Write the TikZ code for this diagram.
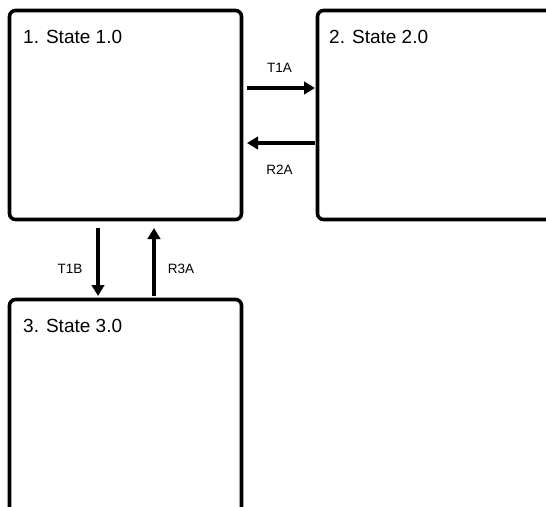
\documentclass[tikz,border=0pt]{standalone}
\usepackage{fontspec}
\setmainfont{Liberation Sans}
\usetikzlibrary{arrows.meta,calc}
\tikzset{
  statebox/.style={draw=black, line width=3.6pt, rounded corners=6pt, rectangle, outer sep=0pt, inner sep=0pt},
  titletext/.style={font=\fontsize{19}{22}\selectfont, inner sep=0pt, anchor=base west},
  arr/.style={line width=3.2pt, -{Triangle[length=11pt,width=12.5pt]}},
  lbl/.style={font=\fontsize{13.5}{16}\selectfont, inner sep=0pt}
}
\begin{document}
\begin{tikzpicture}[x=1pt,y=-1pt]
\clip (0,0) rectangle (546,506);
\fill[white] (0,0) rectangle (546,506);
% boxes
\node[statebox, minimum width=232pt, minimum height=209pt] (b1) at (125.5,115) {};
\node[statebox, minimum width=240pt, minimum height=209pt] (b2) at (437.5,115) {};
\node[statebox, minimum width=232pt, minimum height=220pt] (b3) at (125.5,409.5) {};
% titles
\node[titletext] (t1) at (23,43) {1. State 1.0};
\node[titletext] (t2) at (329,43) {2. State 2.0};
\node[titletext] (t3) at (23,332.5) {3. State 3.0};
% connectors
\draw[arr, shorten <=5.5pt, shorten >=2.5pt] (b1.east |- 0,88) -- (b2.west |- 0,88)
  node[lbl, midway, yshift=20pt] (l1) {T1A};
\draw[arr, shorten <=2.5pt, shorten >=5.5pt] (b2.west |- 0,143) -- (b1.east |- 0,143)
  node[lbl, midway, yshift=-27pt] (l2) {R2A};
\draw[arr, shorten <=8.5pt, shorten >=3.5pt] (b1.south -| 98,0) -- (b3.north -| 98,0)
  node[lbl, midway, xshift=-28pt, yshift=-9pt] (l3) {T1B};
\draw[arr, shorten <=3.5pt, shorten >=8.5pt] (b3.north -| 154,0) -- (b1.south -| 154,0)
  node[lbl, midway, xshift=27pt, yshift=-9pt] (l4) {R3A};
\end{tikzpicture}
\end{document}
